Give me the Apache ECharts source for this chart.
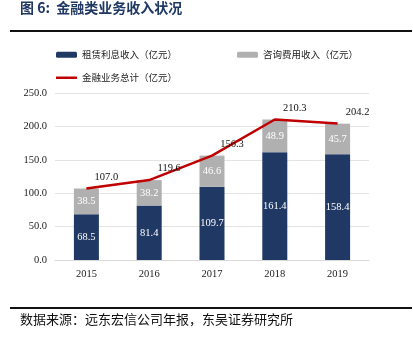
<!DOCTYPE html>
<html><head><meta charset="utf-8">
<script src="https://cdn.jsdelivr.net/npm/echarts@6/dist/echarts.min.js"></script>
<style>html,body{margin:0;padding:0;background:#fff}#c{width:413px;height:342px}</style>
</head><body><div id="c"></div>
<script>
const categories = ['2015','2016','2017','2018','2019'];
const leaseInterest = [68.5, 81.4, 109.7, 161.4, 158.4];
const consultingFee = [38.5, 38.2, 46.6, 48.9, 45.7];
const financeTotal = [107.0, 119.6, 156.3, 210.3, 204.2];
const yTicks = [0, 50, 250];

const numFont = '"Liberation Serif", "Times New Roman", serif';
const cjkFont = '"Noto Sans CJK SC", sans-serif';
const chart = echarts.init(document.getElementById('c'));
chart.setOption({
  animation: false,
  backgroundColor: '#fff',
  grid: {left: 55, right: 44, top: 93, bottom: 82},
  legend: [
    {data: ['租赁利息收入（亿元）'], left: 51, top: 45, itemWidth: 21, itemHeight: 6, itemGap: 4,
     textStyle: {fontFamily: cjkFont, fontSize: 9.5, color: '#222'}},
    {data: ['咨询费用收入（亿元）'], left: 232, top: 45, itemWidth: 21, itemHeight: 6,
     textStyle: {fontFamily: cjkFont, fontSize: 9.5, color: '#222'}},
    {data: [{name: '金融业务总计（亿元）', icon: 'rect'}], left: 51, top: 68, itemWidth: 21, itemHeight: 2.5,
     textStyle: {fontFamily: cjkFont, fontSize: 9.5, color: '#222'}}
  ],
  xAxis: {
    type: 'category', data: categories,
    axisLine: {show: true, lineStyle: {color: '#d9d9d9'}}, axisTick: {show: false},
    axisLabel: {fontFamily: numFont, fontSize: 10.5, color: '#222', margin: 9}
  },
  yAxis: {
    type: 'value', min: yTicks[0], max: yTicks[2], interval: yTicks[1],
    axisLine: {show: false}, axisTick: {show: false},
    splitLine: {lineStyle: {color: '#e3e3e3'}},
    axisLabel: {fontFamily: numFont, fontSize: 10.5, color: '#222', margin: 8,
      formatter: v => v.toFixed(1)}
  },
  series: [
    {name: '租赁利息收入（亿元）', type: 'bar', stack: 'a', data: leaseInterest, barWidth: 25,
     itemStyle: {color: '#1f3864'},
     label: {show: true, position: 'inside', color: '#fff', fontFamily: numFont, fontSize: 10.5,
       formatter: p => p.value.toFixed(1)}},
    {name: '咨询费用收入（亿元）', type: 'bar', stack: 'a', data: consultingFee, barWidth: 25,
     itemStyle: {color: '#b0b0b0'},
     label: {show: true, position: 'inside', color: '#fff', fontFamily: numFont, fontSize: 10.5,
       formatter: p => p.value.toFixed(1)}},
    {name: '金融业务总计（亿元）', type: 'line', data: financeTotal, symbol: 'circle', symbolSize: 0.1,
     showSymbol: true,
     lineStyle: {color: '#c00000', width: 2.5}, itemStyle: {color: '#c00000'},
     label: {show: true, position: 'top', offset: [20, -1], color: '#111', fontFamily: numFont, fontSize: 10.5,
       formatter: p => p.value.toFixed(1)}}
  ],
  graphic: [
    {type: 'text', left: 20, top: 1, style: {text: '图 6:  金融类业务收入状况', font: 'bold 14px ' + cjkFont, fill: '#1f3864'}},
    {type: 'rect', shape: {x: 10, y: 30, width: 402, height: 2}, style: {fill: '#111'}},
    {type: 'rect', shape: {x: 10, y: 307, width: 402, height: 2}, style: {fill: '#111'}},
    {type: 'text', left: 20, top: 313, style: {text: '数据来源：远东宏信公司年报，东吴证券研究所', font: '13px ' + cjkFont, fill: '#111'}}
  ]
});
</script></body></html>
